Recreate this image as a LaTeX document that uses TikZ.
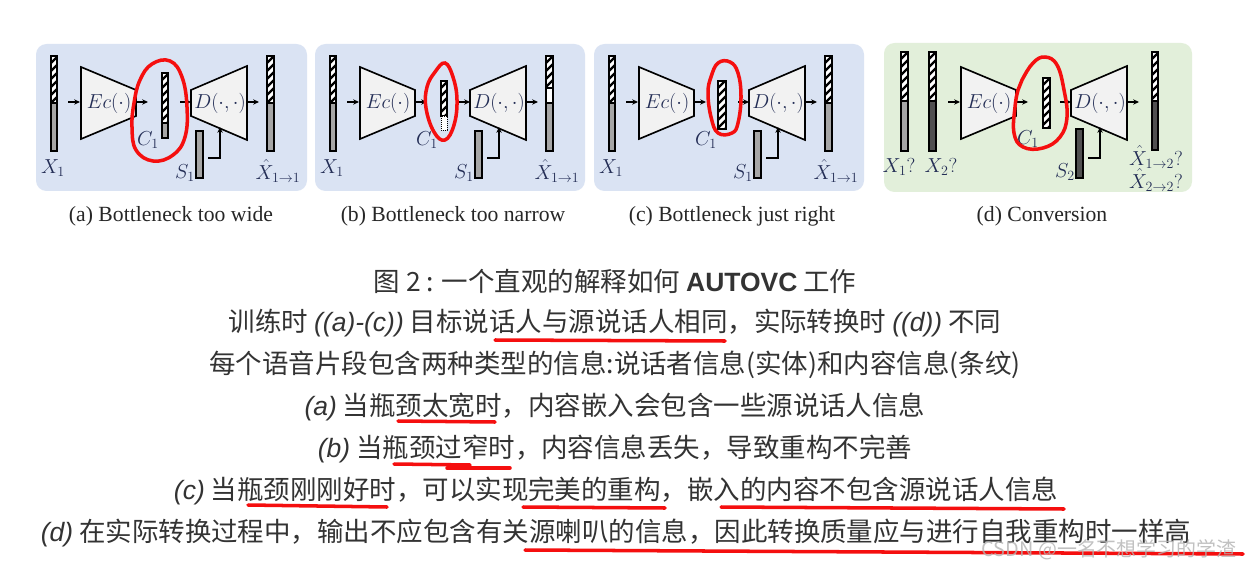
\documentclass[tikz,border=0pt]{standalone}
\usepackage{fontspec}
\setmainfont{Liberation Serif}
\newfontfamily\cjk{Noto Sans CJK SC}
\newfontfamily\latsans{Liberation Sans}
\usetikzlibrary{arrows.meta}
\definecolor{pblue}{RGB}{218,227,243}
\definecolor{pgreen}{RGB}{226,239,218}
\definecolor{lgray}{RGB}{166,166,166}
\definecolor{dgray}{RGB}{80,80,80}
\definecolor{tgray}{RGB}{242,242,242}
\definecolor{lbl}{RGB}{35,45,85}
\definecolor{txt}{RGB}{51,51,51}
\definecolor{redpen}{RGB}{245,15,15}

% striped bar: x1, y top, x2, y bottom
\newcommand{\stripebar}[4]{%
  \begin{scope}
    \clip (#1,#2) rectangle (#3,#4);
    \fill[white] (#1,#2) rectangle (#3,#4);
    \foreach \s in {-8,0,...,64}
      \draw[line width=2pt] (#1-1,#2+\s) -- ++(10,-10);
  \end{scope}
  \draw[barline] (#1,#2) rectangle (#3,#4);}
% striped top, filled bottom: x1, y top, y split, x2, y bottom, colour
\newcommand{\halfbar}[6]{%
  \stripebar{#1}{#2}{#4}{#3}
  \draw[barline, fill=#6] (#1,#3) rectangle (#4,#5);}
\newcommand{\lti}[1]{{\latsans\itshape #1}}

\begin{document}
\begin{tikzpicture}[x=0.03cm, y=-0.03cm,
  arr/.style={line width=1.1pt, -{Stealth[length=5pt,width=4.5pt]}},
  trap/.style={draw, line width=1.4pt, fill=tgray, line join=miter},
  barline/.style={draw, line width=0.9pt},
  vlabel/.style={text=lbl, font=\fontsize{16.5}{18}\selectfont, inner sep=0pt},
  redring/.style={draw=redpen, line width=3pt, line cap=round},
  subcap/.style={font=\fontsize{18.5}{20}\selectfont, text=black!85, inner sep=0pt},
  zh/.style={text=txt, font=\cjk\fontsize{22.6}{25}\selectfont, inner sep=0pt}]
  \useasboundingbox[fill=white] (0,0) rectangle (1245,569);

  % panel backgrounds
  \fill[pblue, rounded corners=9pt] (36,44) rectangle (307,191);
  \fill[pblue, rounded corners=9pt] (315,44) rectangle (585,191);
  \fill[pblue, rounded corners=9pt] (594,44) rectangle (864,191);
  \fill[pgreen, rounded corners=9pt] (884,43) rectangle (1192,192);

  % encoder, decoder and arrows shared by all four panels
  \foreach \ox in {0,279,558,880} {
    \begin{scope}[shift={(\ox,0)}, name prefix=p\ox-]
      \draw[trap] (81,67) -- (136,90) -- (136,116) -- (81,139) -- cycle;
      \draw[trap] (191,90) -- (247,66) -- (247,140) -- (191,116) -- cycle;
      \node[vlabel] (enc) at (109,103) {$Ec(\cdot)$};
      \node[vlabel] (dec) at (220,103) {$D(\cdot,\cdot)$};
      \coordinate (xout) at (68,102);
      \coordinate (ein) at (80,102);
      \coordinate (eout) at (136,102);
      \coordinate (cin) at (148,102);
      \coordinate (cout) at (180,102);
      \coordinate (din) at (191,102);
      \coordinate (dout) at (247,102);
      \coordinate (yin) at (259,102);
      \coordinate (sout) at (208,158);
      \coordinate (dbot) at (220,127);
      \draw[arr] (xout) -- (ein);
      \draw[arr] (eout) -- (cin);
      \draw[arr] (cout) -- (din);
      \draw[arr] (dout) -- (yin);
      \draw[arr] (sout) -| (dbot);
    \end{scope}
  }

  % (a) too wide
  \begin{scope}[name prefix=a-]
    \halfbar{51}{56}{103}{57}{151}{lgray}
    \halfbar{162}{73}{123}{168}{138}{lgray}
    \halfbar{267}{56}{103}{274}{151}{lgray}
    \draw[barline, fill=lgray] (196,131) rectangle (203,178);
    \node[vlabel] (x) at (53,168) {$X_1$};
    \node[vlabel] (c) at (148,140) {$C_1$};
    \node[vlabel] (s) at (185,173) {$S_1$};
    \node[vlabel] (y) at (278,171) {$\hat{X}_{1\to1}$};
  \end{scope}

  % (b) too narrow
  \begin{scope}[shift={(279,0)}, name prefix=b-]
    \halfbar{51}{56}{103}{57}{151}{lgray}
    \stripebar{162}{81}{168}{116}
    \draw[line width=0.7pt, densely dotted, fill=white] (162,116) rectangle (168,130);
    \stripebar{267}{56}{274}{88}
    \draw[barline, fill=white] (267,88) rectangle (274,103);
    \draw[barline, fill=lgray] (267,103) rectangle (274,151);
    \draw[barline, fill=lgray] (196,131) rectangle (203,178);
    \node[vlabel] (x) at (53,168) {$X_1$};
    \node[vlabel] (c) at (148,140) {$C_1$};
    \node[vlabel] (s) at (185,173) {$S_1$};
    \node[vlabel] (y) at (278,171) {$\hat{X}_{1\to1}$};
  \end{scope}

  % (c) just right
  \begin{scope}[shift={(558,0)}, name prefix=c-]
    \halfbar{51}{56}{103}{57}{151}{lgray}
    \stripebar{160}{81}{168}{129}
    \halfbar{267}{56}{103}{274}{151}{lgray}
    \draw[barline, fill=lgray] (196,131) rectangle (203,178);
    \node[vlabel] (x) at (53,168) {$X_1$};
    \node[vlabel] (c) at (148,140) {$C_1$};
    \node[vlabel] (s) at (185,173) {$S_1$};
    \node[vlabel] (y) at (278,171) {$\hat{X}_{1\to1}$};
  \end{scope}

  % (d) conversion
  \begin{scope}[shift={(880,0)}, name prefix=d-]
    \halfbar{21}{52}{101}{28}{151}{lgray}
    \halfbar{49}{52}{101}{56}{151}{dgray}
    \stripebar{163}{78}{170}{128}
    \halfbar{272}{52}{101}{278}{150}{dgray}
    \draw[barline, fill=dgray] (196,129) rectangle (203,178);
    \node[vlabel] (xa) at (19,167) {$X_1?$};
    \node[vlabel] (xb) at (61,167) {$X_2?$};
    \node[vlabel] (c) at (148,139) {$C_1$};
    \node[vlabel] (s) at (185,172) {$S_2$};
    \node[vlabel] (ya) at (276,157) {$\hat{X}_{1\to2}?$};
    \node[vlabel] (yb) at (276,180) {$\hat{X}_{2\to2}?$};
  \end{scope}

  % red pen rings round the bottleneck
  \draw[redring] plot[smooth cycle, tension=0.7] coordinates {(140,80) (152,64) (170,61) (182,77) (187,107) (185,137) (173,155) (153,161) (136,150) (132,127) (134,103)};
  \draw[redring] plot[smooth cycle, tension=0.7] coordinates {(435,72) (445,63) (453,77) (457,100) (454,125) (445,140) (434,132) (426,108) (427,87)};
  \draw[redring] plot[smooth cycle, tension=0.7] coordinates {(711,77) (718,63) (730,62) (738,73) (741,97) (738,123) (732,133) (718,133) (711,117) (708,93)};
  \draw[redring] plot[smooth cycle, tension=0.7] coordinates {(1022,80) (1033,63) (1045,57) (1057,65) (1064,90) (1067,117) (1060,137) (1043,148) (1023,147) (1014,133) (1015,107) (1018,90)};

  % sub-captions
  \node[subcap] (capa) at (171,216) {(a) Bottleneck too wide};
  \node[subcap] (capb) at (453,216) {(b) Bottleneck too narrow};
  \node[subcap] (capc) at (732,216) {(c) Bottleneck just right};
  \node[subcap] (capd) at (1042,216) {(d) Conversion};

  % explanation text
  \node[zh] (title) at (615,281) {图 2 : 一个直观的解释如何 {\latsans\bfseries AUTOVC} 工作};
  \node[zh] (l1) at (615,323) {训练时 \lti{((a)-(c))} 目标说话人与源说话人相同，实际转换时 \lti{((d))} 不同};
  \node[zh] (l2) at (615,365) {每个语音片段包含两种类型的信息:说话者信息(实体)和内容信息(条纹)};
  \node[zh] (l3) at (615,407) {\lti{(a)} 当瓶颈太宽时，内容嵌入会包含一些源说话人信息};
  \node[zh] (l4) at (615,449) {\lti{(b)} 当瓶颈过窄时，内容信息丢失，导致重构不完善};
  \node[zh] (l5) at (616,491) {\lti{(c)} 当瓶颈刚刚好时，可以实现完美的重构，嵌入的内容不包含源说话人信息};
  \node[zh] (l6) at (616,533) {\lti{(d)} 在实际转换过程中，输出不应包含有关源喇叭的信息，因此转换质量应与进行自我重构时一样高};

  % red pen underlines
  \draw[redring] (495,340) -- (725,341);
  \draw[redring] (398,421) -- (495,422);
  \draw[redring] (394,464) -- (470,465);
  \draw[redring] (447,468) -- (510,468);
  \draw[redring] (248,505) -- (387,507);
  \draw[redring] (523,507) -- (665,508);
  \draw[redring] (721,507) -- (1064,509);
  \draw[redring] (525,550) -- (1243,554);

  % watermark
  \node[text=gray!60, opacity=0.8, font=\cjk\fontsize{17}{19}\selectfont, inner sep=0pt] (wm) at (1109,550) {CSDN @一名不想学习的学渣};
\end{tikzpicture}
\end{document}
